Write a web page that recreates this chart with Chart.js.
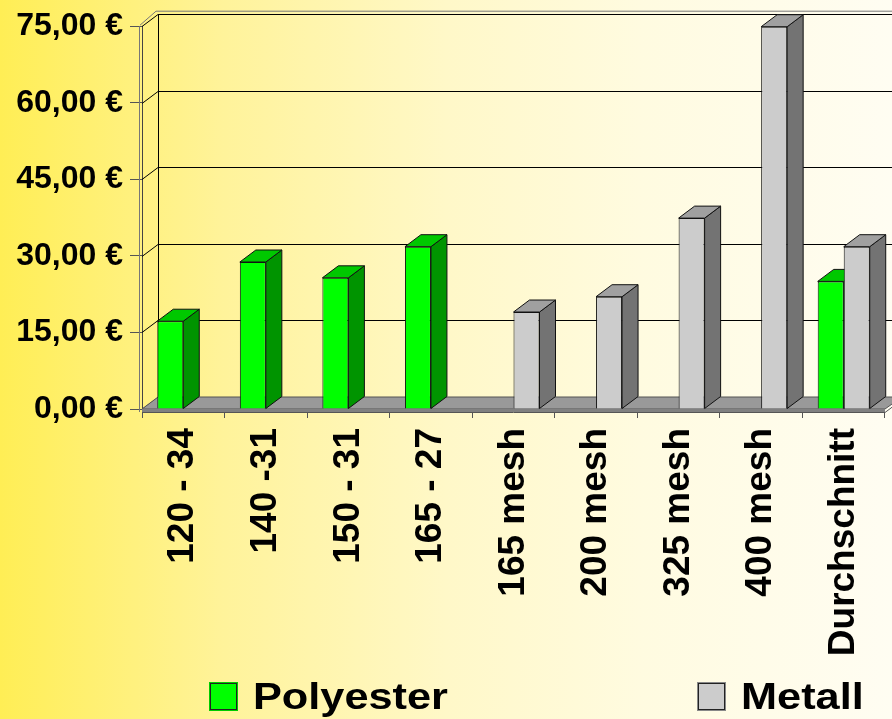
<!DOCTYPE html>
<html lang="de">

<head>
  <meta charset="UTF-8">
  <title>Preisvergleich Polyester / Metall</title>

  <!-- Chart.js for rendering graphs -->
  <script src="https://cdn.jsdelivr.net/npm/chart.js"></script>

  <style>
    body {
      margin: 0;
      font-family: 'Liberation Sans', Arial, sans-serif;
    }

    #wrap {
      position: relative;
      width: 892px;
      height: 719px;
      background: linear-gradient(to right, #ffee55 0%, #fff39a 25%, #fff8c8 50%, #fffbe0 72%, #fffdf2 100%);
      overflow: hidden;
    }

    .legend-item {
      position: absolute;
      top: 678px;
      height: 37px;
    }

    .legend-box {
      position: absolute;
      top: 5px;
      width: 25px;
      height: 25px;
      border: 1px solid #222;
    }

    .legend-text {
      position: absolute;
      left: 43px;
      top: 0;
      font-size: 37px;
      line-height: 37px;
      font-weight: bold;
      color: #000;
      white-space: nowrap;
      transform: scaleX(1.17);
      transform-origin: left center;
    }
  </style>
</head>

<body>
  <div id="wrap">
    <canvas id="chart" width="892" height="719"></canvas>
    <div id="legend"></div>
  </div>

  <script>
    // Data
    const categories = ['120 - 34', '140 -31', '150 - 31', '165 - 27', '165 mesh', '200 mesh', '325 mesh', '400 mesh', 'Durchschnitt'];
    const polyesterValues = [17.2, 28.8, 25.7, 31.8, null, null, null, null, 25.0];
    const metallValues = [null, null, null, null, 19.0, 22.0, 37.4, 74.9, 31.8];
    const seriesNames = ['Polyester', 'Metall'];
    const yTicks = [0, 15, 30, 45, 60, 75];
    const yTickLabels = ['0,00 €', '15,00 €', '30,00 €', '45,00 €', '60,00 €', '75,00 €'];

    // Colours: front, side, top
    const faces = [
      { front: '#00ff00', side: '#009400', top: '#00c800', legendBorder: '#00cc00' },
      { front: '#cccccc', side: '#737373', top: '#a0a0a0', legendBorder: '#888888' }
    ];

    // depth offset of the fake 3D look
    const DX = 16, DY = -12;

    // Draws back wall, floor and the side/top faces of each bar
    const threeD = {
      id: 'threeD',
      beforeDatasetsDraw(chart) {
        const { ctx, chartArea: a, scales: { x, y } } = chart;
        const y0 = y.getPixelForValue(0);
        const yTop = y.getPixelForValue(75);
        ctx.save();
        ctx.lineWidth = 1;

        // back wall grid lines + diagonals
        ctx.strokeStyle = '#000';
        yTicks.forEach(v => {
          const yf = Math.round(y.getPixelForValue(v)) + 0.5;
          ctx.beginPath();
          ctx.moveTo(a.left, yf);
          ctx.lineTo(a.left + DX, yf + DY);
          ctx.lineTo(chart.width, yf + DY);
          ctx.stroke();
        });

        // back wall left edge
        ctx.beginPath();
        ctx.moveTo(a.left + DX + 0.5, yTop + DY);
        ctx.lineTo(a.left + DX + 0.5, y0 + DY);
        ctx.stroke();

        // second line of the wall (thickness)
        ctx.strokeStyle = '#777';
        ctx.beginPath();
        ctx.moveTo(a.left - 2.5, yTop);
        ctx.lineTo(a.left - 2.5, y0 + 3);
        ctx.stroke();
        ctx.beginPath();
        ctx.moveTo(a.left - 2, yTop - 1);
        ctx.lineTo(a.left + DX - 2, yTop + DY - 3);
        ctx.lineTo(chart.width, yTop + DY - 3);
        ctx.stroke();

        // floor
        ctx.fillStyle = '#999999';
        ctx.strokeStyle = '#555';
        ctx.beginPath();
        ctx.moveTo(a.left, y0);
        ctx.lineTo(a.left + DX, y0 + DY);
        ctx.lineTo(chart.width + 10, y0 + DY);
        ctx.lineTo(a.right, y0);
        ctx.closePath();
        ctx.fill();
        ctx.stroke();
        ctx.fillStyle = '#808080';
        ctx.fillRect(a.left, y0, a.right - a.left, 3);
        ctx.beginPath();
        ctx.moveTo(a.left, y0 + 3.5);
        ctx.lineTo(a.right, y0 + 3.5);
        ctx.lineTo(a.right + DX, y0 + 3.5 + DY);
        ctx.stroke();

        // side and top faces of the bars
        ctx.strokeStyle = '#111';
        chart.data.datasets.forEach((ds, i) => {
          chart.getDatasetMeta(i).data.forEach((bar, j) => {
            if (ds.data[j] == null) return;
            const { x: cx, y: top, base, width } = bar.getProps(['x', 'y', 'base', 'width'], true);
            const l = cx - width / 2, r = cx + width / 2;

            ctx.fillStyle = faces[i].side;
            ctx.beginPath();
            ctx.moveTo(r, top);
            ctx.lineTo(r + DX, top + DY);
            ctx.lineTo(r + DX, base + DY);
            ctx.lineTo(r, base);
            ctx.closePath();
            ctx.fill();
            ctx.stroke();

            ctx.fillStyle = faces[i].top;
            ctx.beginPath();
            ctx.moveTo(l, top);
            ctx.lineTo(l + DX, top + DY);
            ctx.lineTo(r + DX, top + DY);
            ctx.lineTo(r, top);
            ctx.closePath();
            ctx.fill();
            ctx.stroke();
          });
        });
        ctx.restore();
      }
    };

    const ctx = document.getElementById('chart').getContext('2d');

    new Chart(ctx, {
      type: 'bar',
      data: {
        labels: categories,
        datasets: [{
          label: seriesNames[0],
          data: polyesterValues,
          backgroundColor: faces[0].front,
          borderColor: '#111',
          borderWidth: 1
        }, {
          label: seriesNames[1],
          data: metallValues,
          backgroundColor: faces[1].front,
          borderColor: '#111',
          borderWidth: 1
        }]
      },
      options: {
        responsive: false,
        animation: false,
        devicePixelRatio: 1,
        categoryPercentage: 0.63,
        barPercentage: 1,
        layout: {
          padding: { top: 23, right: 7, bottom: 0, left: 0 }
        },
        plugins: {
          legend: { display: false },
          tooltip: { enabled: false }
        },
        scales: {
          x: {
            // fixed height, and no extra side padding for the rotated labels
            afterFit: scale => {
              scale.height = 310;
              scale.paddingLeft = 0;
              scale.paddingRight = 0;
            },
            grid: {
              drawOnChartArea: false,
              offset: true,
              tickLength: 9,
              color: '#555'
            },
            border: { display: false },
            ticks: {
              autoSkip: false,
              minRotation: 90,
              maxRotation: 90,
              padding: 10,
              color: '#000',
              font: { family: "'Liberation Sans', Arial, sans-serif", size: 37, weight: 'bold' }
            }
          },
          y: {
            min: 0,
            max: 75,
            afterFit: scale => { scale.width = 142; },
            grid: {
              drawOnChartArea: false,
              tickLength: 12,
              color: '#555'
            },
            border: { color: '#444', width: 1 },
            ticks: {
              stepSize: 15,
              padding: 7,
              color: '#000',
              font: { family: "'Liberation Sans', Arial, sans-serif", size: 32, weight: 'bold' },
              callback: (value, index) => yTickLabels[index]
            }
          }
        }
      },
      plugins: [threeD]
    });

    // HTML legend built from the series names
    const legendLeft = [210, 698];
    const legend = document.getElementById('legend');
    seriesNames.forEach((name, i) => {
      const item = document.createElement('div');
      item.className = 'legend-item';
      item.style.left = legendLeft[i] + 'px';
      item.innerHTML = '<div class="legend-box"></div><div class="legend-text"></div>';
      item.querySelector('.legend-box').style.background = faces[i].front;
      item.querySelector('.legend-box').style.boxShadow = '0 0 0 1px ' + faces[i].legendBorder;
      item.querySelector('.legend-text').textContent = name;
      legend.appendChild(item);
    });
  </script>

</body>

</html>
